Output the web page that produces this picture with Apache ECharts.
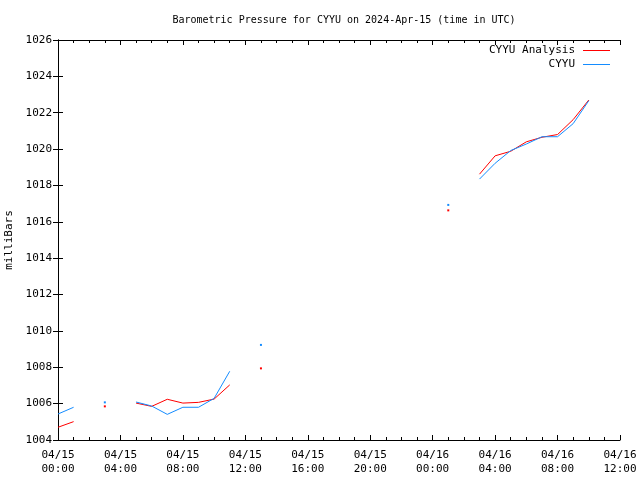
<!DOCTYPE html>
<html>
<head>
<meta charset="utf-8">
<script src="https://cdn.jsdelivr.net/npm/echarts@6/dist/echarts.min.js"></script>
<style>
html,body{margin:0;padding:0;background:#fff;}
#chart{width:640px;height:480px;}
</style>
</head>
<body>
<div id="chart"></div>
<script>
// Hours since 2024-04-15 00:00 UTC
var hours = [0,1,2,3,4,5,6,7,8,9,10,11,12,13,14,15,16,17,18,19,20,21,22,23,24,25,26,27,28,29,30,31,32,33,34];
// CYYU Analysis (red)
var analysisValues = [1004.70,1005.01,null,1005.85,null,1006.03,1005.85,1006.24,1006.03,1006.07,1006.25,1007.03,null,1007.94,
  null,null,null,null,null,null,null,null,null,null,null,1016.63,null,
  1018.62,1019.63,1019.88,1020.40,1020.65,1020.80,1021.62,1022.70];
// CYYU observed (blue)
var observedValues = [1005.43,1005.80,null,1006.07,null,1006.09,1005.87,1005.41,1005.80,1005.80,1006.29,1007.78,null,1009.23,
  null,null,null,null,null,null,null,null,null,null,null,1016.93,null,
  1018.35,1019.22,1019.92,1020.28,1020.68,1020.68,1021.40,1022.66];
var xTickLabels = ['04/15\n00:00','04/15\n04:00','04/15\n08:00','04/15\n12:00','04/15\n16:00','04/15\n20:00','04/16\n00:00','04/16\n04:00','04/16\n08:00','04/16\n12:00'];
var yTickLabels = ['1004','1006','1008','1010','1012','1014','1016','1018','1020','1022','1024','1026'];
var titleText = 'Barometric Pressure for CYYU on 2024-Apr-15 (time in UTC)';
var seriesNames = ['CYYU Analysis','CYYU'];

function pairs(vals){
  return hours.map(function(h,i){ return [h, vals[i]]; });
}
function isoSize(vals){
  return function(v, p){
    var i = p.dataIndex;
    var prev = i > 0 ? vals[i-1] : null;
    var next = i < vals.length-1 ? vals[i+1] : null;
    return (vals[i] != null && prev == null && next == null) ? 2 : 0;
  };
}

var FONT = 'DejaVu Sans Mono';
var chart = echarts.init(document.getElementById('chart'), null, {renderer:'canvas'});
var axisLine = {show:true, lineStyle:{color:'#000', width:1}};
chart.setOption({
  animation:false,
  backgroundColor:'#fff',
  title:{text:titleText, left:339, textAlign:'center', top:10, textStyle:{fontFamily:FONT, fontSize:10, fontWeight:'normal', color:'#000'}},
  legend:{
    orient:'vertical', right:25, top:39.5, align:'right', itemGap:2,
    itemWidth:27, itemHeight:1, icon:'rect',
    textStyle:{fontFamily:FONT, fontSize:11, color:'#000', lineHeight:12, padding:[0,3,0,0]},
    data:seriesNames
  },
  grid:{left:58, right:20, top:40, bottom:40, containLabel:false, outerBoundsMode:'none'},
  xAxis:[{
    type:'value', min:0, max:36, interval:4, position:'bottom',
    axisLine:axisLine,
    axisTick:{show:true, inside:true, length:5, lineStyle:{color:'#000'}},
    minorTick:{show:true, splitNumber:4, length:3, lineStyle:{color:'#000'}},
    splitLine:{show:false},
    axisLabel:{fontFamily:FONT, fontSize:11, color:'#000', margin:8, lineHeight:14,
      formatter:function(v){ return xTickLabels[Math.round(v/4)] || ''; }}
  },{
    type:'value', min:0, max:36, interval:4, position:'top',
    axisLine:axisLine,
    axisTick:{show:true, inside:true, length:5, lineStyle:{color:'#000'}},
    minorTick:{show:true, splitNumber:4, length:3, lineStyle:{color:'#000'}},
    splitLine:{show:false}, axisLabel:{show:false}
  }],
  yAxis:[{
    type:'value', min:1004, max:1026, interval:2, position:'left',
    name:'milliBars', nameLocation:'middle', nameGap:43, nameRotate:90,
    nameTextStyle:{fontFamily:FONT, fontSize:11, color:'#000'},
    axisLine:axisLine,
    axisTick:{show:true, inside:true, length:5, lineStyle:{color:'#000'}},
    splitLine:{show:false},
    axisLabel:{fontFamily:FONT, fontSize:11, color:'#000', margin:6,
      formatter:function(v){ return yTickLabels[Math.round((v-1004)/2)] || ''; }}
  },{
    type:'value', min:1004, max:1026, interval:2, position:'right',
    axisLine:axisLine,
    axisTick:{show:true, inside:true, length:5, lineStyle:{color:'#000'}},
    splitLine:{show:false}, axisLabel:{show:false}
  }],
  series:[{
    name:seriesNames[0], type:'line', data:pairs(analysisValues),
    xAxisIndex:0, yAxisIndex:0, connectNulls:false,
    symbol:'rect', showSymbol:true, symbolSize:isoSize(analysisValues),
    color:'#ff0000', itemStyle:{color:'#ff0000'},
    lineStyle:{color:'#ff0000', width:1}, z:2
  },{
    name:seriesNames[1], type:'line', data:pairs(observedValues),
    xAxisIndex:0, yAxisIndex:0, connectNulls:false,
    symbol:'rect', showSymbol:true, symbolSize:isoSize(observedValues),
    color:'#148cff', itemStyle:{color:'#148cff'},
    lineStyle:{color:'#148cff', width:1}, z:3
  }]
});
</script>
</body>
</html>
